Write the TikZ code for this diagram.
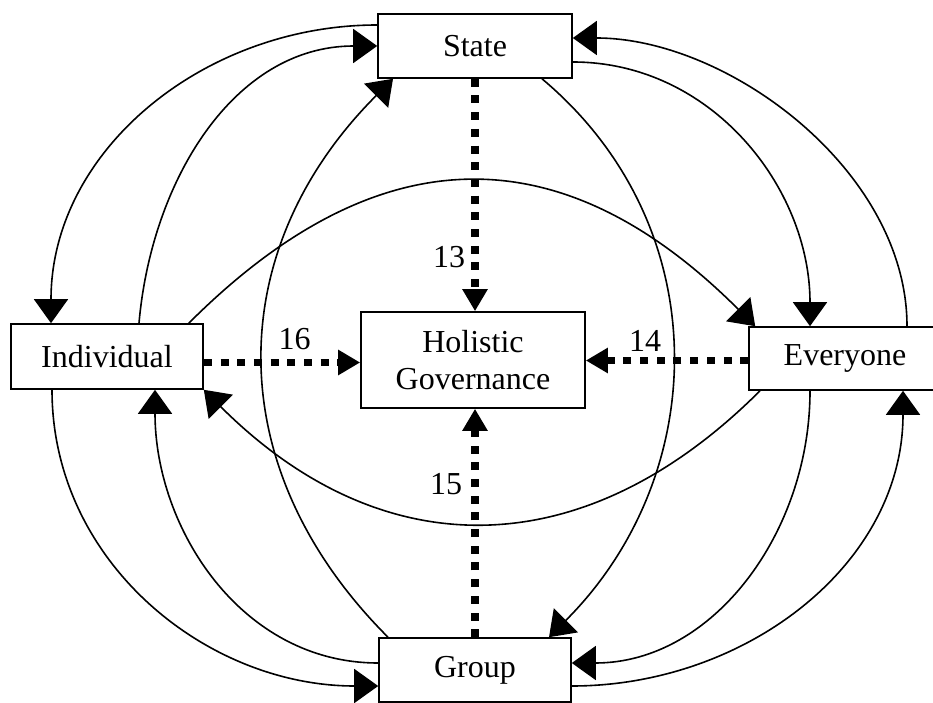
\documentclass[tikz,border=0pt]{standalone}
\usepackage{fontspec}
\setmainfont{Liberation Serif}
\usetikzlibrary{arrows.meta}

\begin{document}
\begin{tikzpicture}[
  x=1pt, y=1pt,
  box/.style={rectangle, draw, line width=1.6pt, fill=white, minimum width=192pt,
    minimum height=64pt, align=center, font=\fontsize{32}{37}\selectfont},
  link/.style={draw, line width=1.6pt, -{Triangle[length=24pt,width=34pt]}},
  dotlink/.style={draw, line width=7.5pt, dash pattern=on 8pt off 8.7pt,
    -{Triangle[length=22pt,width=24pt]}},
  numlabel/.style={inner sep=0pt, font=\fontsize{32}{37}\selectfont}
]
\useasboundingbox (0,0) rectangle (933,702);

\node[box, minimum width=194pt] (state) at (475,656) {State};
\node[box, minimum height=65pt] (individual) at (107,345.5) {Individual};
\node[box, minimum width=224pt, minimum height=96pt] (holistic) at (473,342) {Holistic\\Governance};
\node[box, minimum height=63pt] (everyone) at (845,343.5) {Everyone};
\node[box] (group) at (475,32) {Group};

% curved links round the centre
\draw[link] ([yshift=21pt]state.west) to[out=180,in=90] ([xshift=-56pt]individual.north);
\draw[link] ([xshift=32pt]individual.north) to[out=85,in=180] (state.west);
\draw[link] ([xshift=-87pt]group.north) to[out=135,in=225,looseness=1.1] ([xshift=-82pt]state.south);
\draw[link] ([xshift=-15pt]individual.north east) to[out=45,in=135,looseness=1.22] ([xshift=7pt]everyone.north west);
\draw[link] ([yshift=-16pt]state.east) to[out=0,in=90] ([xshift=-35pt]everyone.north);
\draw[link] ([xshift=62pt]everyone.north) to[out=90,in=0,looseness=0.9] ([yshift=8pt]state.east);
\draw[link] ([xshift=67pt]state.south) to[out=-40,in=45,looseness=1.05] ([xshift=74pt]group.north);
\draw[link] ([xshift=-85pt]everyone.south) to[out=-135,in=-45,looseness=1.15] (individual.south east);
\draw[link] ([xshift=-55pt]individual.south) to[out=-90,in=180] ([yshift=-16pt]group.west);
\draw[link] ([yshift=7pt]group.west) to[out=180,in=-90] ([xshift=48pt]individual.south);
\draw[link] ([xshift=-35pt]everyone.south) to[out=-90,in=0] ([yshift=7pt]group.east);
\draw[link] ([yshift=-16pt]group.east) to[out=0,in=-90] ([xshift=58pt]everyone.south);

% dotted links into the centre
\draw[dotlink] (state.south) -- (state.south |- holistic.north)
  node[numlabel, pos=0.765, xshift=-26pt] {13};
\draw[dotlink] ([yshift=-2pt]everyone.west) -- ([yshift=-2pt]everyone.west -| holistic.east)
  node[numlabel, pos=0.634, yshift=20pt] {14};
\draw[dotlink] (group.north) -- (group.north |- holistic.south)
  node[numlabel, pos=0.67, xshift=-29pt] {15};
\draw[dotlink] ([yshift=-6pt]individual.east) -- ([yshift=-6pt]individual.east -| holistic.west)
  node[numlabel, pos=0.58, yshift=23pt] {16};
\end{tikzpicture}
\end{document}
